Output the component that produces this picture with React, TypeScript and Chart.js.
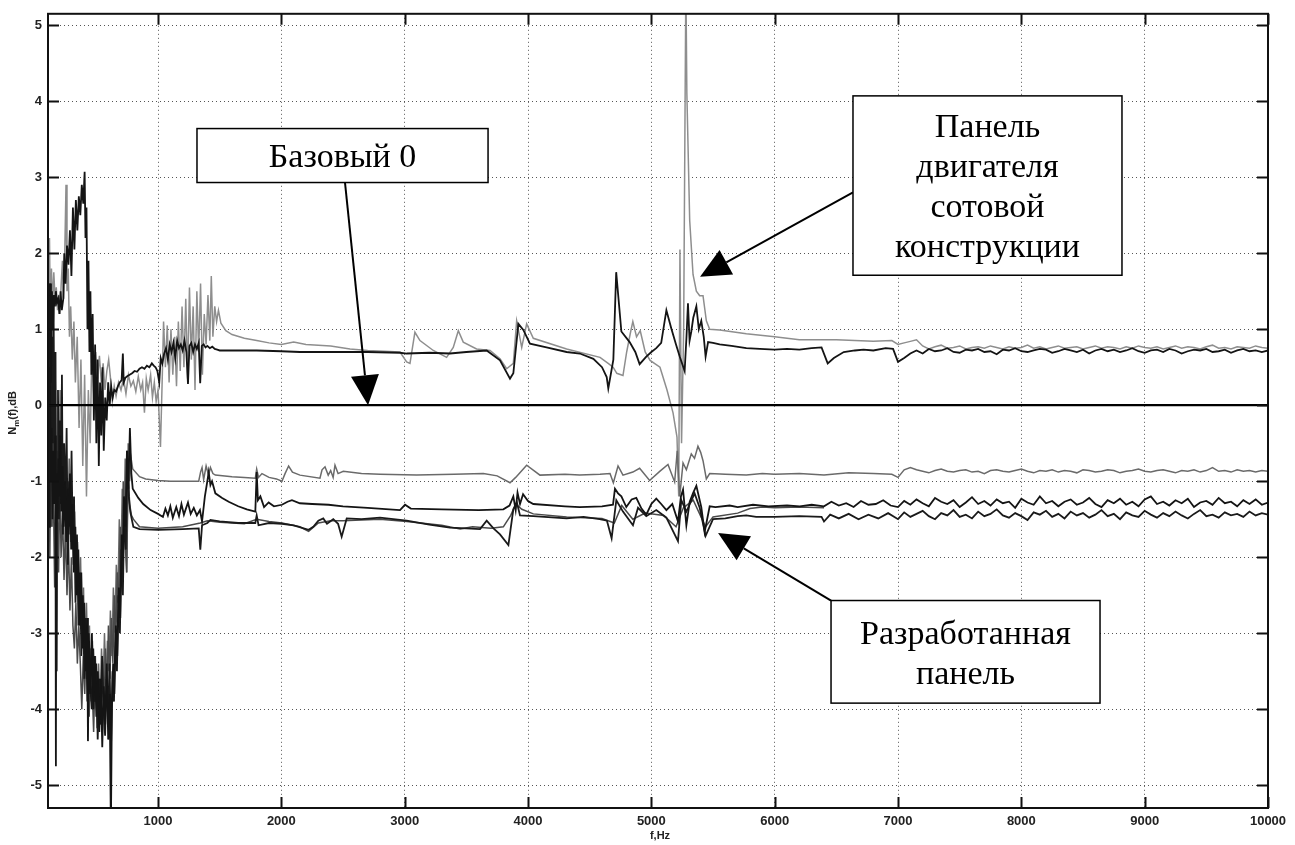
import React, { useEffect, useRef } from "react";
import { Chart, registerables } from "chart.js";

Chart.register(...registerables);

// ---------- axis ticks ----------
const xTickValues = [1000, 2000, 3000, 4000, 5000, 6000, 7000, 8000, 9000, 10000];
const yTickValues = [-5, -4, -3, -2, -1, 0, 1, 2, 3, 4, 5];
const xMin = 108;
const xMax = 10000;
const yMin = -5.3;
const yMax = 5.15;

// ---------- high-frequency sampling (7050 … 10000 Hz) ----------
const hfF = [7050, 7100, 7150, 7200, 7250, 7300, 7350, 7400, 7450, 7500, 7550, 7600, 7650, 7700, 7750, 7800, 7850, 7900, 7950, 8000, 8050, 8100, 8150, 8200, 8250, 8300, 8350, 8400, 8450, 8500, 8550, 8600, 8650, 8700, 8750, 8800, 8850, 8900, 8950, 9000, 9050, 9100, 9150, 9200, 9250, 9300, 9350, 9400, 9450, 9500, 9550, 9600, 9650, 9700, 9750, 9800, 9850, 9900, 9950, 10000];

// ---------- series: "Базовый 0" ----------
const baseF = [108, 10000];
const baseV = [0, 0];

// ---------- series: upper black ----------
const ubF = [111, 118, 125, 132, 140, 148, 156, 164, 172, 180, 190, 200, 210, 220, 232, 240, 250, 262, 274, 286, 298, 310, 322, 334, 346, 358, 370, 382, 394, 405, 412, 420, 428, 436, 444, 452, 460, 470, 480, 490, 500, 510, 520, 530, 540, 550, 560, 572, 584, 596, 608, 620, 632, 645, 660, 675, 690, 705, 715, 722, 735, 750, 770, 790, 810, 830, 850, 870, 890, 910, 930, 950, 965, 980, 995, 1010, 1022, 1035, 1050, 1065, 1080, 1095, 1110, 1125, 1140, 1155, 1170, 1185, 1200, 1215, 1230, 1243, 1255, 1270, 1285, 1300, 1315, 1330, 1342, 1355, 1370, 1385, 1400, 1420, 1440, 1460, 1480, 1500, 1600, 1800, 2000, 2151, 2400, 2700, 2962, 3016, 3200, 3367, 3500, 3665, 3773, 3854, 3881, 3922, 3962, 4016, 4150, 4313, 4420, 4530, 4600, 4638, 4651, 4692, 4715, 4757, 4824, 4870, 4905, 4959, 5000, 5040, 5080, 5122, 5162, 5200, 5230, 5270, 5285, 5297, 5310, 5324, 5340, 5365, 5385, 5405, 5425, 5440, 5460, 5500, 5554, 5650, 5770, 5880, 6000, 6100, 6200, 6300, 6380, 6430, 6480, 6560, 6650, 6720, 6800, 6900, 6960, 7000];
const ubV = [1.3, 0.6, 1.6, 0.3, 1.5, 1.0, 1.45, 1.3, 1.5, 1.35, 1.4, 1.2, 1.5, 1.25, 1.4, 2.0, 1.6, 2.1, 1.85, 2.3, 1.7, 2.6, 2.05, 2.7, 2.3, 2.75, 2.5, 2.9, 2.65, 3.07, 2.2, 2.6, 1.0, 1.9, 0.7, 1.5, 0.4, 1.2, -0.2, 0.8, -0.5, 0.6, -0.8, 0.3, -0.4, 0.5, -0.6, 0.1, -0.2, 0.3, 0.0, 0.25, 0.1, 0.2, 0.18, 0.25, 0.3, 0.33, 0.68, 0.3, 0.36, 0.38, 0.4, 0.42, 0.45, 0.44, 0.48, 0.5, 0.48, 0.52, 0.5, 0.55, 0.52, 0.5, 0.45, 0.3, 0.62, 0.55, 0.68, 0.75, 0.6, 0.8, 0.7, 0.82, 0.62, 0.85, 0.75, 0.8, 0.72, 0.85, 0.7, 0.28, 0.78, 0.82, 0.7, 0.8, 0.74, 0.82, 0.29, 0.78, 0.8, 0.76, 0.78, 0.75, 0.77, 0.74, 0.73, 0.72, 0.72, 0.72, 0.71, 0.7, 0.7, 0.7, 0.69, 0.68, 0.69, 0.68, 0.7, 0.72, 0.59, 0.35, 0.42, 1.07, 0.99, 0.81, 0.76, 0.7, 0.68, 0.61, 0.5, 0.37, 0.22, 0.6, 1.75, 0.97, 0.83, 0.7, 0.54, 0.64, 0.7, 0.75, 0.82, 1.25, 1.01, 0.8, 0.64, 0.45, 0.9, 1.34, 0.85, 0.97, 1.15, 1.3, 1.0, 1.11, 0.9, 0.64, 0.83, 0.82, 0.8, 0.78, 0.75, 0.74, 0.73, 0.74, 0.73, 0.75, 0.76, 0.55, 0.62, 0.7, 0.72, 0.73, 0.72, 0.75, 0.74, 0.57];
const ubHfV = [0.62, 0.68, 0.72, 0.68, 0.74, 0.71, 0.72, 0.75, 0.70, 0.69, 0.73, 0.72, 0.74, 0.70, 0.71, 0.67, 0.73, 0.72, 0.75, 0.71, 0.70, 0.72, 0.74, 0.73, 0.69, 0.71, 0.74, 0.72, 0.70, 0.73, 0.68, 0.72, 0.74, 0.71, 0.73, 0.70, 0.72, 0.75, 0.71, 0.69, 0.72, 0.73, 0.70, 0.74, 0.72, 0.68, 0.71, 0.73, 0.72, 0.74, 0.70, 0.71, 0.73, 0.69, 0.72, 0.74, 0.71, 0.72, 0.70, 0.72];

// ---------- series: upper grey (honeycomb engine panel) ----------
const ugF = [111, 120, 128, 136, 145, 155, 165, 175, 185, 195, 205, 215, 225, 235, 245, 254, 262, 272, 282, 292, 305, 318, 330, 345, 360, 375, 390, 405, 420, 435, 450, 465, 480, 495, 510, 525, 540, 555, 570, 585, 600, 615, 630, 645, 660, 680, 700, 720, 740, 760, 780, 800, 820, 840, 860, 875, 890, 905, 920, 940, 955, 970, 985, 1000, 1020, 1035, 1045, 1060, 1075, 1090, 1105, 1120, 1135, 1150, 1165, 1180, 1195, 1210, 1225, 1240, 1255, 1270, 1285, 1300, 1315, 1330, 1345, 1360, 1375, 1390, 1405, 1420, 1432, 1445, 1460, 1475, 1490, 1510, 1550, 1600, 1700, 1800, 1900, 2000, 2100, 2200, 2400, 2557, 2700, 2962, 3016, 3043, 3083, 3124, 3232, 3340, 3394, 3435, 3475, 3583, 3692, 3773, 3827, 3881, 3908, 3949, 3989, 4043, 4313, 4584, 4650, 4690, 4720, 4770, 4800, 4830, 4850, 4880, 4910, 4950, 4990, 5070, 5127, 5176, 5208, 5222, 5232, 5245, 5262, 5280, 5288, 5311, 5338, 5365, 5392, 5419, 5446, 5473, 5554, 5770, 6000, 6200, 6500, 6800, 6950, 7000];
const ugV = [1.5, 2.2, 1.0, 1.8, 1.3, 1.75, 1.4, 1.55, 1.25, 1.45, 1.2, 1.6, 1.9, 1.4, 2.1, 2.9, 1.5, 1.8, 0.9, 1.3, 0.6, 1.1, 0.3, 0.9, -0.3, 0.6, -0.8, 0.4, -1.2, 0.2, -0.5, 0.8, 0.1, 0.7, 0.35, 0.65, 0.3, 0.55, 0.2, 0.45, 0.6, 0.35, 0.05, 0.25, 0.12, 0.3, 0.2, 0.35, 0.15, 0.4, 0.25, 0.32, 0.18, 0.38, 0.2, 0.3, -0.1, 0.35, 0.2, 0.4, 0.1, 0.3, 0.05, 0.2, -0.55, 0.4, 1.1, 0.5, 1.05, 0.3, 1.0, 0.4, 0.9, 0.25, 1.1, 0.45, 1.3, 0.5, 1.4, 0.35, 1.55, 0.6, 1.3, 0.2, 1.5, 0.7, 1.6, 0.4, 1.2, 0.8, 1.45, 0.85, 1.7, 0.9, 1.3, 1.1, 1.25, 1.08, 0.98, 0.93, 0.88, 0.85, 0.82, 0.8, 0.83, 0.8, 0.78, 0.74, 0.72, 0.7, 0.57, 0.55, 0.96, 0.85, 0.72, 0.63, 0.76, 0.98, 0.83, 0.74, 0.72, 0.61, 0.48, 0.55, 1.11, 0.76, 1.07, 0.88, 0.74, 0.63, 0.55, 0.5, 0.42, 0.39, 0.7, 0.95, 1.1, 0.9, 0.98, 0.7, 0.59, 0.5, 0.2, -0.1, -0.42, -1.2, 2.05, -0.5, 1.0, 5.6, 4.1, 2.43, 1.72, 1.5, 1.44, 1.44, 1.11, 1.0, 0.99, 0.94, 0.9, 0.86, 0.86, 0.84, 0.85, 0.8];
const ugHfV = [0.82, 0.84, 0.86, 0.78, 0.74, 0.77, 0.79, 0.75, 0.76, 0.78, 0.74, 0.76, 0.77, 0.75, 0.78, 0.76, 0.74, 0.77, 0.75, 0.76, 0.79, 0.75, 0.77, 0.74, 0.76, 0.78, 0.75, 0.76, 0.77, 0.74, 0.76, 0.78, 0.75, 0.77, 0.76, 0.74, 0.77, 0.75, 0.78, 0.76, 0.75, 0.77, 0.74, 0.76, 0.78, 0.75, 0.77, 0.76, 0.74, 0.77, 0.79, 0.75, 0.76, 0.74, 0.77, 0.76, 0.75, 0.78, 0.76, 0.75];

// ---------- series: lower grey ----------
const lgF = [111, 118, 126, 134, 142, 150, 158, 166, 174, 182, 190, 198, 206, 214, 222, 230, 240, 250, 260, 270, 280, 290, 300, 312, 324, 336, 348, 360, 372, 384, 396, 408, 420, 432, 444, 456, 468, 480, 492, 505, 518, 530, 542, 554, 566, 578, 590, 602, 614, 626, 638, 650, 662, 674, 686, 698, 710, 722, 734, 746, 758, 770, 782, 795, 850, 900, 1000, 1100, 1200, 1330, 1345, 1357, 1370, 1390, 1410, 1425, 1445, 1465, 1600, 1700, 1789, 1800, 1815, 1843, 1900, 1960, 2005, 2030, 2059, 2090, 2151, 2313, 2330, 2354, 2380, 2400, 2420, 2435, 2460, 2502, 2650, 2800, 3097, 3400, 3638, 3750, 3854, 3900, 3989, 4097, 4300, 4419, 4584, 4665, 4692, 4730, 4770, 4850, 4905, 4986, 5068, 5135, 5189, 5210, 5230, 5257, 5284, 5324, 5350, 5378, 5400, 5419, 5446, 5473, 5600, 5770, 5900, 6000, 6200, 6400, 6600, 6800, 6950, 7000];
const lgV = [-0.5, 0.8, -1.2, 0.3, -1.6, -0.4, -1.3, 0.5, -0.9, -1.7, -0.6, -1.4, 0.2, -1.1, -0.3, -1.6, -0.8, -1.9, -1.0, -1.5, -0.7, -1.8, -1.2, -2.1, -1.4, -2.4, -1.8, -2.7, -2.0, -3.1, -2.4, -3.4, -2.6, -3.6, -2.9, -3.9, -3.1, -3.8, -3.3, -4.25, -3.4, -4.0, -3.2, -3.8, -3.0, -3.7, -3.1, -3.5, -2.7, -3.3, -2.4, -3.0, -2.1, -2.6, -1.5, -2.2, -1.1, -1.8, -0.7, -2.2, -0.5, -1.0, -0.7, -0.84, -0.94, -0.97, -0.99, -1.0, -1.0, -1.0, -0.88, -0.82, -0.98, -0.8, -0.92, -0.82, -0.9, -0.92, -0.94, -0.95, -0.96, -0.84, -0.95, -0.9, -0.95, -0.97, -1.0, -0.9, -0.8, -0.88, -0.92, -0.96, -0.85, -0.81, -0.92, -0.86, -0.95, -0.79, -0.9, -0.87, -0.9, -0.91, -0.92, -0.91, -0.9, -0.93, -1.02, -0.95, -0.79, -0.92, -0.91, -0.92, -0.91, -0.9, -1.02, -0.8, -0.92, -0.88, -0.83, -0.99, -0.87, -0.78, -1.01, -0.6, -1.2, -0.76, -0.85, -0.64, -0.7, -0.54, -0.62, -0.73, -0.97, -0.9, -0.91, -0.92, -0.9, -0.91, -0.9, -0.92, -0.89, -0.9, -0.91, -0.95];
const lgHfV = [-0.85, -0.82, -0.85, -0.87, -0.89, -0.86, -0.84, -0.87, -0.88, -0.86, -0.85, -0.88, -0.87, -0.9, -0.86, -0.85, -0.87, -0.88, -0.86, -0.84, -0.87, -0.89, -0.86, -0.87, -0.85, -0.88, -0.86, -0.87, -0.89, -0.85, -0.86, -0.88, -0.87, -0.85, -0.86, -0.89, -0.87, -0.86, -0.84, -0.87, -0.88, -0.86, -0.85, -0.87, -0.89, -0.86, -0.87, -0.85, -0.88, -0.86, -0.82, -0.87, -0.86, -0.88, -0.85, -0.87, -0.86, -0.88, -0.86, -0.87];

// ---------- series: lower black 1 (developed panel) ----------
const lb1F = [111, 117, 123, 130, 137, 144, 152, 160, 168, 172, 176, 184, 192, 200, 208, 216, 226, 236, 246, 256, 266, 276, 286, 296, 306, 318, 330, 342, 354, 366, 378, 390, 402, 414, 426, 432, 440, 452, 464, 476, 488, 500, 512, 524, 536, 548, 560, 572, 584, 596, 608, 618, 626, 636, 646, 658, 670, 682, 694, 706, 716, 724, 736, 748, 760, 772, 784, 795, 840, 880, 940, 1000, 1040, 1060, 1080, 1100, 1120, 1148, 1170, 1190, 1210, 1243, 1265, 1290, 1315, 1340, 1357, 1380, 1400, 1411, 1425, 1438, 1465, 1520, 1573, 1650, 1720, 1789, 1800, 1810, 1830, 1860, 1897, 1940, 2005, 2050, 2086, 2150, 2250, 2383, 2500, 2700, 2962, 3003, 3050, 3300, 3600, 3800, 3850, 3881, 3900, 3915, 3935, 3960, 4000, 4043, 4300, 4419, 4600, 4689, 4705, 4730, 4757, 4797, 4840, 4878, 4920, 4959, 5000, 5040, 5080, 5122, 5170, 5216, 5240, 5257, 5284, 5311, 5340, 5365, 5405, 5432, 5473, 5520, 5635, 5700, 5824, 5950, 6100, 6203, 6300, 6400, 6460, 6520, 6580, 6640, 6700, 6760, 6820, 6880, 6940, 7000];
const lb1V = [-0.2, -1.6, 0.5, -1.0, -0.3, -1.5, -0.6, -1.3, -0.4, -4.75, -0.9, -1.5, -0.7, -1.2, -0.4, -1.4, -0.8, -1.6, -1.0, -1.8, -1.1, -1.7, -0.9, -1.9, -1.3, -2.2, -1.6, -2.5, -1.9, -2.9, -2.2, -3.2, -2.6, -3.5, -2.8, -4.42, -3.1, -3.8, -3.0, -4.0, -3.3, -4.1, -3.5, -4.3, -3.6, -4.5, -3.7, -4.2, -3.4, -4.4, -3.8, -5.6, -4.0, -3.4, -3.8, -2.9, -3.3, -2.4, -2.8, -1.7, -2.04, -1.2, -1.6, -0.6, -1.1, -0.3, -0.9, -1.1, -1.22, -1.3, -1.38, -1.43, -1.47, -1.36, -1.45, -1.33, -1.48, -1.34, -1.46, -1.3, -1.44, -1.28, -1.43, -1.35, -1.45, -1.38, -1.53, -1.2, -1.0, -0.88, -1.05, -1.0, -1.16, -1.22, -1.27, -1.33, -1.37, -1.4, -0.88, -1.25, -1.2, -1.34, -1.28, -1.33, -1.31, -1.27, -1.25, -1.29, -1.3, -1.31, -1.33, -1.35, -1.38, -1.31, -1.36, -1.37, -1.38, -1.37, -1.32, -1.2, -1.38, -1.15, -1.3, -1.17, -1.26, -1.3, -1.33, -1.34, -1.33, -1.31, -1.1, -1.16, -1.2, -1.34, -1.24, -1.22, -1.36, -1.44, -1.3, -1.23, -1.3, -1.38, -1.3, -1.53, -1.2, -1.11, -1.58, -1.27, -1.15, -1.06, -1.34, -1.67, -1.33, -1.34, -1.32, -1.34, -1.31, -1.33, -1.32, -1.33, -1.31, -1.33, -1.27, -1.32, -1.29, -1.34, -1.26, -1.31, -1.3, -1.25, -1.32, -1.34];
const lb1HfV = [-1.26, -1.31, -1.24, -1.29, -1.33, -1.22, -1.27, -1.3, -1.25, -1.34, -1.28, -1.21, -1.3, -1.26, -1.32, -1.24, -1.29, -1.27, -1.35, -1.23, -1.28, -1.31, -1.2, -1.29, -1.26, -1.33, -1.27, -1.24, -1.31, -1.28, -1.22, -1.3, -1.34, -1.25, -1.29, -1.23, -1.31, -1.27, -1.33, -1.24, -1.2, -1.3, -1.27, -1.32, -1.25, -1.29, -1.23, -1.34, -1.28, -1.26, -1.31, -1.22, -1.29, -1.27, -1.33, -1.25, -1.3, -1.24, -1.31, -1.28];

// ---------- series: lower black 2 (developed panel) ----------
const lb2F = [111, 117, 124, 131, 138, 145, 153, 161, 169, 177, 181, 189, 197, 205, 213, 221, 229, 239, 249, 259, 269, 279, 289, 299, 309, 319, 331, 343, 355, 367, 379, 391, 403, 415, 427, 439, 451, 463, 475, 487, 499, 511, 523, 535, 547, 559, 571, 583, 595, 607, 619, 631, 643, 655, 667, 679, 691, 703, 715, 727, 739, 751, 763, 775, 787, 800, 850, 1000, 1200, 1330, 1343, 1357, 1400, 1425, 1500, 1650, 1789, 1800, 1815, 1900, 2005, 2100, 2221, 2259, 2300, 2340, 2370, 2421, 2460, 2489, 2530, 2650, 2800, 3016, 3200, 3367, 3500, 3611, 3665, 3720, 3773, 3841, 3881, 3910, 3935, 4043, 4313, 4450, 4581, 4640, 4678, 4716, 4770, 4851, 4892, 4959, 5040, 5122, 5216, 5243, 5284, 5351, 5392, 5440, 5500, 5600, 5700, 5770, 5850, 6000, 6200, 6380, 6400, 6450, 6520, 6600, 6680, 6760, 6840, 6920, 7000];
const lb2V = [1.2, -0.6, 1.6, -1.0, 0.9, -0.5, 1.4, -1.1, 0.7, -3.5, -1.2, 0.2, -1.5, -0.2, -1.3, 0.4, -1.7, -0.5, -1.4, -0.3, -2.1, -1.0, -1.6, -0.6, -1.9, -1.2, -2.6, -1.7, -2.9, -2.2, -3.3, -2.5, -3.6, -2.8, -3.9, -3.0, -3.7, -4.0, -3.2, -3.9, -3.4, -4.4, -3.6, -4.2, -3.3, -4.0, -4.35, -3.6, -4.1, -3.4, -4.5, -3.5, -3.9, -3.0, -3.5, -2.5, -3.0, -1.9, -2.5, -1.3, -1.9, -0.6, -1.2, -1.4, -1.5, -1.6, -1.63, -1.64, -1.63, -1.62, -1.9, -1.58, -1.55, -1.51, -1.53, -1.55, -1.55, -1.45, -1.58, -1.55, -1.56, -1.58, -1.64, -1.6, -1.52, -1.49, -1.56, -1.5, -1.56, -1.73, -1.49, -1.5, -1.48, -1.52, -1.57, -1.61, -1.62, -1.63, -1.52, -1.62, -1.7, -1.84, -1.37, -1.28, -1.45, -1.46, -1.49, -1.47, -1.5, -1.52, -1.75, -1.25, -1.4, -1.58, -1.35, -1.46, -1.38, -1.48, -1.79, -1.25, -1.4, -1.16, -1.35, -1.72, -1.5, -1.49, -1.46, -1.45, -1.47, -1.47, -1.46, -1.47, -1.53, -1.44, -1.49, -1.43, -1.5, -1.44, -1.49, -1.42, -1.5];
const lb2HfV = [-1.41, -1.47, -1.43, -1.39, -1.46, -1.5, -1.42, -1.45, -1.38, -1.47, -1.44, -1.49, -1.4, -1.46, -1.43, -1.37, -1.45, -1.48, -1.42, -1.46, -1.51, -1.41, -1.44, -1.39, -1.47, -1.43, -1.49, -1.4, -1.45, -1.42, -1.48, -1.44, -1.38, -1.46, -1.43, -1.5, -1.41, -1.45, -1.47, -1.39, -1.44, -1.48, -1.42, -1.46, -1.4, -1.45, -1.49, -1.43, -1.38, -1.46, -1.44, -1.48, -1.41, -1.45, -1.43, -1.47, -1.4, -1.45, -1.42, -1.44];

// ---------- series: lower dark grey (developed panel variant) ----------
const lb3F = [111, 117, 123, 130, 137, 144, 152, 162, 170, 178, 184, 194, 204, 214, 226, 238, 250, 262, 274, 286, 298, 310, 322, 334, 346, 358, 370, 382, 394, 406, 418, 430, 442, 454, 466, 478, 490, 502, 513, 526, 538, 550, 562, 574, 586, 598, 610, 622, 634, 646, 658, 670, 682, 694, 706, 718, 730, 746, 758, 770, 785, 800, 850, 1000, 1200, 1343, 1400, 1500, 1700, 1800, 1900, 2005, 2150, 2221, 2300, 2400, 2500, 2800, 3016, 3300, 3450, 3550, 3700, 3800, 3860, 3900, 3950, 4043, 4313, 4600, 4700, 4760, 4850, 4950, 5100, 5200, 5260, 5340, 5440, 5500, 5700, 5800, 5900, 6000, 6200, 6400];
const lb3V = [-1.0, 0.4, -2.0, -0.6, -1.6, 0.1, -1.2, -2.4, -1.1, -3.5, -1.3, -2.2, -0.9, -2.0, -1.4, -2.3, -1.6, -2.5, -1.8, -2.7, -2.0, -2.9, -3.2, -2.6, -3.4, -2.9, -3.4, -4.0, -3.3, -3.8, -3.0, -3.6, -4.1, -3.2, -3.7, -4.3, -3.5, -4.0, -4.23, -3.6, -4.2, -3.4, -4.0, -3.2, -3.9, -2.9, -3.6, -2.8, -3.4, -2.5, -3.1, -2.2, -2.7, -1.6, -2.2, -1.0, -1.7, -2.2, -0.9, -1.3, -1.45, -1.5, -1.6, -1.62, -1.6, -1.55, -1.52, -1.54, -1.56, -1.5, -1.53, -1.55, -1.6, -1.66, -1.55, -1.52, -1.52, -1.5, -1.53, -1.58, -1.63, -1.6, -1.62, -1.6, -1.45, -1.3, -1.37, -1.43, -1.47, -1.49, -1.55, -1.32, -1.5, -1.42, -1.45, -1.6, -1.35, -1.25, -1.6, -1.47, -1.42, -1.36, -1.34, -1.35, -1.34, -1.35];

// ---------- annotations (data coordinates) ----------
const boxes = [
  { f0: 1316, f1: 3676, yTop: 3.64, yBot: 2.93, lines: ["Базовый 0"] },
  { f0: 6635, f1: 8816, yTop: 4.07, yBot: 1.71, lines: ["Панель", "двигателя", "сотовой", "конструкции"] },
  { f0: 6457, f1: 8638, yTop: -2.57, yBot: -3.92, lines: ["Разработанная", "панель"] },
];
const arrows = [
  { fromF: 2516, fromY: 2.93, toF: 2703, toY: 0.0 },
  { fromF: 6635, fromY: 2.8, toF: 5395, toY: 1.69 },
  { fromF: 6457, fromY: -2.57, toF: 5541, toY: -1.68 },
];

function pts(fs: number[], vs: number[]) {
  return fs.map((f, i) => ({ x: f, y: vs[i] }));
}

const tickFont = { family: '"Liberation Sans Narrow", "Liberation Sans", Arial, sans-serif', size: 13, weight: "bold" as const };

const framePlugin = {
  id: "matlabFrame",
  afterDraw(chart: any) {
    const { ctx, chartArea: a, scales } = chart;
    const xs = scales.x;
    const ys = scales.y;
    ctx.save();
    ctx.strokeStyle = "#111";
    ctx.lineWidth = 2;
    ctx.strokeRect(a.left, a.top, a.right - a.left, a.bottom - a.top);
    const tl = 11;
    ctx.beginPath();
    for (const v of xTickValues) {
      const px = Math.round(xs.getPixelForValue(v)) + 0.5;
      ctx.moveTo(px, a.bottom);
      ctx.lineTo(px, a.bottom - tl);
      ctx.moveTo(px, a.top);
      ctx.lineTo(px, a.top + tl);
    }
    for (const v of yTickValues) {
      const py = Math.round(ys.getPixelForValue(v)) + 0.5;
      ctx.moveTo(a.left, py);
      ctx.lineTo(a.left + tl, py);
      ctx.moveTo(a.right, py);
      ctx.lineTo(a.right - tl, py);
    }
    ctx.stroke();

    // axis titles
    ctx.fillStyle = "#222";
    ctx.font = 'bold 11px "Liberation Sans", Arial, sans-serif';
    ctx.textAlign = "center";
    ctx.textBaseline = "middle";
    ctx.fillText("f,Hz", 660, 836);

    ctx.save();
    ctx.translate(13, (a.top + a.bottom) / 2 + 2);
    ctx.rotate(-Math.PI / 2);
    const big = 'bold 11px "Liberation Sans", Arial, sans-serif';
    const small = 'bold 8px "Liberation Sans", Arial, sans-serif';
    ctx.font = big;
    const wN = ctx.measureText("N").width;
    const wR = ctx.measureText("(f),dB").width;
    ctx.font = small;
    const wm = ctx.measureText("m").width;
    const total = wN + wm + wR;
    let x0 = -total / 2;
    ctx.textAlign = "left";
    ctx.font = big;
    ctx.fillText("N", x0, 0);
    x0 += wN;
    ctx.font = small;
    ctx.fillText("m", x0, 4);
    x0 += wm;
    ctx.font = big;
    ctx.fillText("(f),dB", x0, 0);
    ctx.restore();

    // annotation arrows
    ctx.strokeStyle = "#000";
    ctx.fillStyle = "#000";
    for (const ar of arrows) {
      const x1 = xs.getPixelForValue(ar.fromF);
      const y1 = ys.getPixelForValue(ar.fromY);
      const x2 = xs.getPixelForValue(ar.toF);
      const y2 = ys.getPixelForValue(ar.toY);
      const ang = Math.atan2(y2 - y1, x2 - x1);
      const hl = 30;
      const hw = 14;
      const bx = x2 - hl * Math.cos(ang);
      const by = y2 - hl * Math.sin(ang);
      ctx.lineWidth = 2;
      ctx.beginPath();
      ctx.moveTo(x1, y1);
      ctx.lineTo(bx, by);
      ctx.stroke();
      ctx.beginPath();
      ctx.moveTo(x2, y2);
      ctx.lineTo(bx + hw * Math.sin(ang), by - hw * Math.cos(ang));
      ctx.lineTo(bx - hw * Math.sin(ang), by + hw * Math.cos(ang));
      ctx.closePath();
      ctx.fill();
    }

    // annotation boxes
    for (const b of boxes) {
      const l = xs.getPixelForValue(b.f0);
      const r = xs.getPixelForValue(b.f1);
      const t = ys.getPixelForValue(b.yTop);
      const btm = ys.getPixelForValue(b.yBot);
      ctx.fillStyle = "#fff";
      ctx.fillRect(l, t, r - l, btm - t);
      ctx.strokeStyle = "#000";
      ctx.lineWidth = 1.5;
      ctx.strokeRect(l, t, r - l, btm - t);
      ctx.fillStyle = "#000";
      ctx.font = '34px "Liberation Serif", "Times New Roman", serif';
      ctx.textAlign = "center";
      ctx.textBaseline = "middle";
      const lh = 40;
      const cx = (l + r) / 2;
      const cy = (t + btm) / 2 + 3;
      b.lines.forEach((s, i) => {
        ctx.fillText(s, cx, cy + (i - (b.lines.length - 1) / 2) * lh);
      });
    }
    ctx.restore();
  },
};

export default function App() {
  const ref = useRef<HTMLCanvasElement | null>(null);
  useEffect(() => {
    if (!ref.current) return;
    const mk = (label: string, data: { x: number; y: number }[], color: string, w: number) => ({
      label,
      data,
      borderColor: color,
      backgroundColor: color,
      borderWidth: w,
      pointRadius: 0,
      tension: 0,
      fill: false,
    });
    const chart = new Chart(ref.current, {
      type: "line",
      data: {
        datasets: [
          mk("Базовый 0", pts(baseF, baseV), "#000", 2.2),
          mk("upper black", pts(ubF, ubV).concat(pts(hfF, ubHfV)), "#141414", 1.8),
          mk("lower black 1", pts(lb1F, lb1V).concat(pts(hfF, lb1HfV)), "#141414", 1.8),
          mk("lower black 2", pts(lb2F, lb2V).concat(pts(hfF, lb2HfV)), "#1a1a1a", 1.8),
          mk("lower dark grey", pts(lb3F, lb3V), "#4a4a4a", 1.5),
          mk("lower grey", pts(lgF, lgV).concat(pts(hfF, lgHfV)), "#6a6a6a", 1.5),
          mk("upper grey", pts(ugF, ugV).concat(pts(hfF, ugHfV)), "#8e8e8e", 1.5),
        ],
      },
      options: {
        animation: false,
        responsive: false,
        devicePixelRatio: 1,
        layout: { padding: { left: 0, top: 13, right: 27, bottom: 0 } },
        plugins: { legend: { display: false }, tooltip: { enabled: false } },
        scales: {
          x: {
            type: "linear",
            min: xMin,
            max: xMax,
            afterBuildTicks: (s: any) => {
              s.ticks = xTickValues.map((v) => ({ value: v }));
            },
            afterFit: (s: any) => {
              s.height = 37;
            },
            grid: { color: "#555", lineWidth: 1, drawTicks: false },
            border: { display: false, dash: [1, 3] },
            ticks: {
              color: "#222",
              font: tickFont,
              padding: 6,
              maxRotation: 0,
              autoSkip: false,
              callback: (v: any) => String(v),
            },
          },
          y: {
            type: "linear",
            min: yMin,
            max: yMax,
            afterBuildTicks: (s: any) => {
              s.ticks = yTickValues.map((v) => ({ value: v }));
            },
            afterFit: (s: any) => {
              s.width = 48;
            },
            grid: { color: "#555", lineWidth: 1, drawTicks: false },
            border: { display: false, dash: [1, 3] },
            ticks: { color: "#222", font: tickFont, padding: 6, autoSkip: false, callback: (v: any) => String(v) },
          },
        },
      },
      plugins: [framePlugin],
    } as any);
    return () => chart.destroy();
  }, []);
  return (
    <div style={{ position: "fixed", left: 0, top: 0, width: 1295, height: 845, background: "#fff" }}>
      <canvas ref={ref} width={1295} height={845} style={{ display: "block", width: 1295, height: 845 }} />
    </div>
  );
}
